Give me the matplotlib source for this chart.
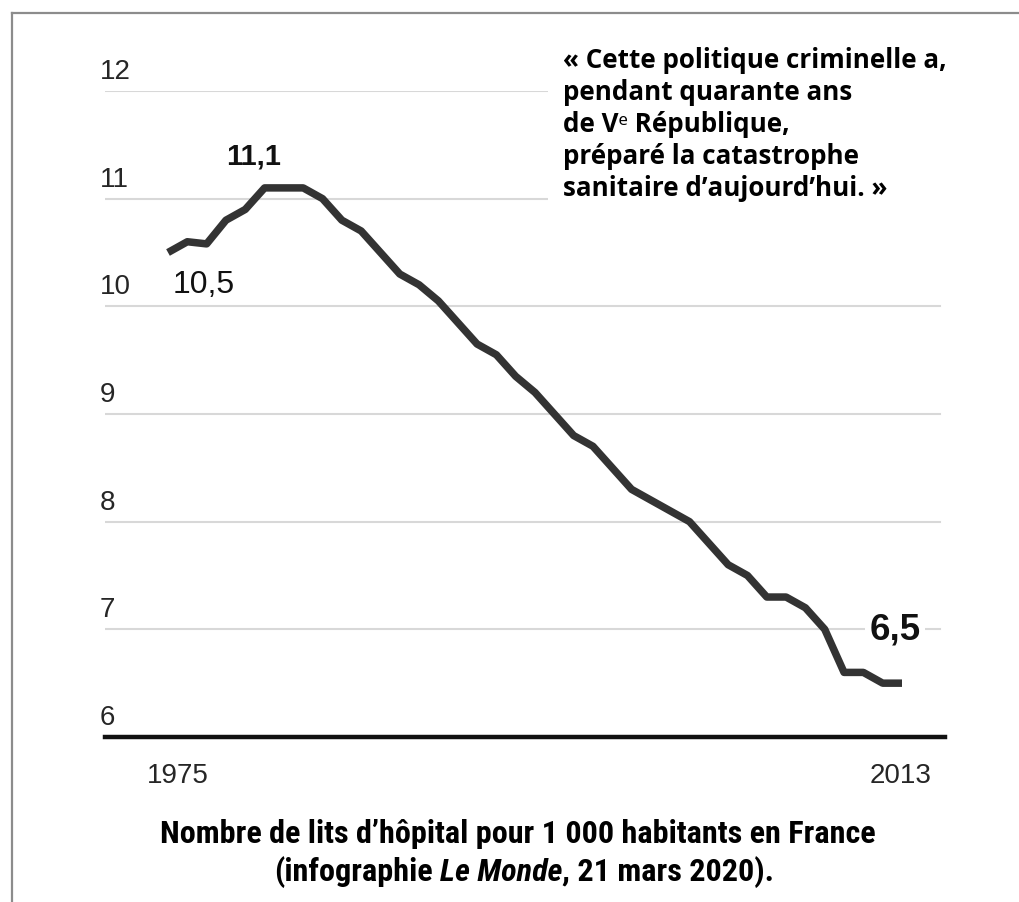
import os
import matplotlib
matplotlib.use("Agg")
import matplotlib.pyplot as plt
from matplotlib import font_manager as fm
from matplotlib import transforms as mtransforms
from matplotlib.lines import Line2D

# ---------------- data ----------------
years = list(range(1975, 2014))
beds = [10.5, 10.6, 10.58, 10.8, 10.9, 11.1, 11.1, 11.1, 11.0, 10.8,
        10.7, 10.5, 10.3, 10.2, 10.05, 9.85, 9.65, 9.55, 9.35, 9.2,
        9.0, 8.8, 8.7, 8.5, 8.3, 8.2, 8.1, 8.0, 7.8, 7.6,
        7.5, 7.3, 7.3, 7.2, 7.0, 6.6, 6.6, 6.5, 6.5]
y_ticks = [6, 7, 8, 9, 10, 11, 12]
y_tick_labels = ["6", "7", "8", "9", "10", "11", "12"]
x_ticks = [1975, 2013]
x_tick_labels = ["1975", "2013"]
annot_labels = ["10,5", "11,1", "6,5"]
annot_years = [1975, 1980, 2013]
annot_values = [10.5, 11.1, 6.5]
quote = ("« Cette politique criminelle a,\npendant quarante ans\n"
         "de V\u1d49 République,\npréparé la catastrophe\n"
         "sanitaire d\u2019aujourd\u2019hui. »")
caption_1 = "Nombre de lits d\u2019hôpital pour 1 000 habitants en France"
caption_2a = "(infographie"
caption_2b = "Le Monde"
caption_2c = ", 21 mars 2020)."

# ---------------- fonts ----------------
def pick_font_pair():
    files = {}
    for f in fm.fontManager.ttflist:
        files[os.path.basename(f.fname).lower()] = f.fname
    pairs = [
        ("notosans-extracondensedblack.ttf", "notosans-extracondensedblackitalic.ttf"),
        ("notosans-extracondensedextrabold.ttf", "notosans-extracondensedextrabolditalic.ttf"),
        ("notosans-extracondensedbold.ttf", "notosans-extracondensedbolditalic.ttf"),
        ("robotocondensed-extrabold.ttf", "robotocondensed-extrabolditalic.ttf"),
        ("robotocondensed-black.ttf", "robotocondensed-blackitalic.ttf"),
        ("notosans-condensedbold.ttf", "notosans-condensedbolditalic.ttf"),
        ("liberationsansnarrow-bold.ttf", "liberationsansnarrow-bolditalic.ttf"),
        ("robotocondensed-bold.ttf", "robotocondensed-bolditalic.ttf"),
        ("opensans-condbold.ttf", "opensans-condlightitalic.ttf"),
        ("dejavusanscondensed-bold.ttf", "dejavusanscondensed-boldoblique.ttf"),
    ]
    for b, i in pairs:
        if b in files:
            fb = fm.FontProperties(fname=files[b])
            fi = fm.FontProperties(fname=files[i]) if i in files else \
                fm.FontProperties(fname=files[b], style="italic")
            return fb, fi
    return (fm.FontProperties(family="Liberation Sans", weight="bold"),
            fm.FontProperties(family="Liberation Sans", weight="bold", style="italic"))

cap_b, cap_i = pick_font_pair()

W, H = 1019, 903
fig = plt.figure(figsize=(W / 100, H / 100), dpi=100)
fig.patch.set_facecolor("white")

# axes geometry (pixels)
ax_l, ax_r, ax_top, ax_bot = 105, 945, 92, 738
ax = fig.add_axes([ax_l / W, 1 - ax_bot / H, (ax_r - ax_l) / W, (ax_bot - ax_top) / H])
ax.set_facecolor("none")
px_per_year = (902 - 168) / 38.0
x0 = 1975 - (168 - ax_l) / px_per_year
ax.set_xlim(x0, x0 + (ax_r - ax_l) / px_per_year)
ax.set_ylim(6, 12)
for s in ax.spines.values():
    s.set_visible(False)
ax.set_xticks([])
ax.set_yticks([])

# gridlines
for v in y_ticks[1:]:
    ax.axhline(v, xmin=0, xmax=(940 - ax_l) / (ax_r - ax_l), color="#d8d8d8", lw=1.5, zorder=1)
ax.axhline(6, color="#111111", lw=3.2, zorder=3, clip_on=False)

# line
ax.plot(years, beds, color="#333333", lw=5.4, solid_joinstyle="round",
        solid_capstyle="butt", zorder=4)

# y tick labels above gridlines
ytrans = mtransforms.blended_transform_factory(ax.transAxes, ax.transData)
ytrans = ytrans + mtransforms.ScaledTranslation(0, 13 / 100, fig.dpi_scale_trans)
for v, lab in zip(y_ticks, y_tick_labels):
    ax.text(-0.006, v, lab, transform=ytrans, ha="left", va="baseline",
            fontsize=20, color="#262626", family="Liberation Sans", clip_on=False)

# x tick labels
xtrans = mtransforms.blended_transform_factory(ax.transData, ax.transAxes)
xtrans = xtrans + mtransforms.ScaledTranslation(0, -45 / 100, fig.dpi_scale_trans)
for xv, lab, dx in zip(x_ticks, x_tick_labels, [0.5, -0.1]):
    ax.text(xv + dx, 0, lab, transform=xtrans, ha="center", va="baseline",
            fontsize=20, color="#262626", family="Liberation Sans", clip_on=False)

# annotations
offsets = [(5, -40), (-11, 24), (-7, 45)]
styles = [dict(fontsize=23, fontweight="normal"),
          dict(fontsize=21, fontweight="bold"),
          dict(fontsize=26.5, fontweight="bold")]
for lab, xv, yv, off, st in zip(annot_labels, annot_years, annot_values, offsets, styles):
    kw = {}
    if lab == "6,5":
        kw["bbox"] = dict(facecolor="white", edgecolor="none", pad=3)
    ax.annotate(lab, (xv, yv), xytext=off, textcoords="offset pixels",
                ha="left" if lab == "10,5" else "center", va="baseline",
                color="#111111", family="Liberation Sans", zorder=5,
                annotation_clip=False, **st, **kw)

# quote
fig.text(563 / W, 1 - 47 / H, quote, ha="left", va="top", fontsize=18.7,
         fontweight="bold", family=["Open Sans", "Noto Sans", "DejaVu Sans"],
         linespacing=1.24, color="#000000", zorder=10,
         bbox=dict(facecolor="white", edgecolor="none", pad=11))

# frame
fig.add_artist(Line2D([12 / W, 12 / W], [0, 1 - 14 / H], transform=fig.transFigure,
                      color="#8c8c8c", lw=1.6))
fig.add_artist(Line2D([12 / W, 1], [1 - 14 / H, 1 - 14 / H], transform=fig.transFigure,
                      color="#8c8c8c", lw=1.6))

# caption
fig.canvas.draw()
r = fig.canvas.get_renderer()
t1 = fig.text(518 / W, 1 - 843 / H, caption_1, fontproperties=cap_b, ha="center",
              va="baseline", color="#000000")
t1.set_fontsize(27)
w1 = t1.get_window_extent(r).width
size = 27 * 717.0 / w1
t1.set_fontsize(size)

pieces = [(caption_2a, cap_b), (caption_2b, cap_i), (caption_2c, cap_b)]
texts = []
for s, fp in pieces:
    t = fig.text(0, 1 - 881 / H, s, fontproperties=fp, ha="left", va="baseline",
                 color="#000000")
    t.set_fontsize(size)
    texts.append(t)
gap = size * 0.22 * 100 / 72.0
widths = [t.get_window_extent(r).width for t in texts]
total = sum(widths) + gap
xpos = 524 - total / 2
for i, t in enumerate(texts):
    t.set_x(xpos / W)
    xpos += widths[i] + (gap if i == 0 else 0)

fig.savefig("out.png", dpi=100, facecolor="white")
